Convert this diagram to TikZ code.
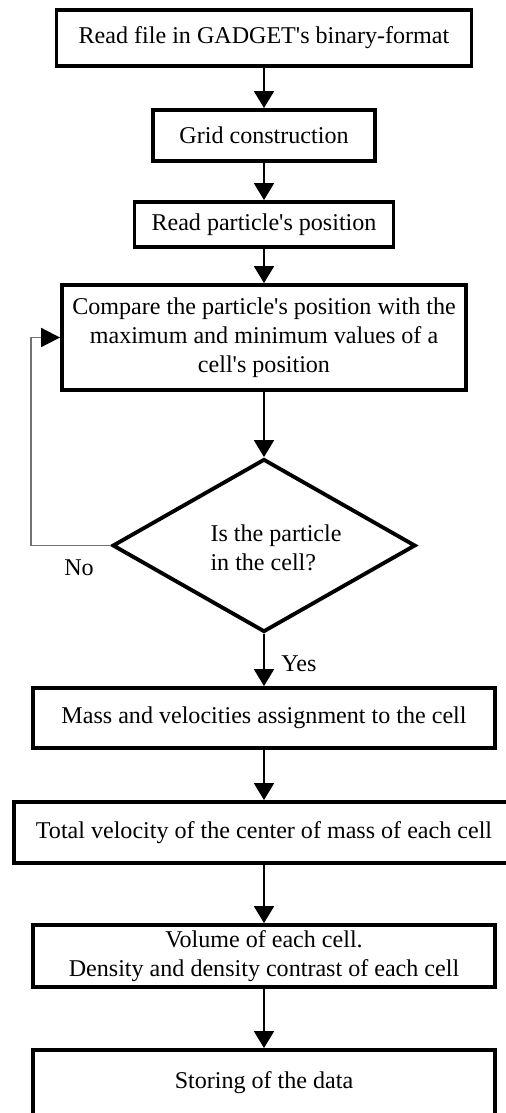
\documentclass[tikz,border=0pt]{standalone}
\usepackage{fontspec}
\setmainfont{Liberation Serif}
\usetikzlibrary{shapes.geometric,arrows.meta}
\newcommand{\apos}{\textquotesingle}
\tikzset{
  box/.style={draw=black, line width=2.2pt, rectangle, inner sep=0pt, align=center,
    font=\fontsize{13.7}{16.5}\selectfont},
  dia/.style={draw=black, line width=2.2pt, diamond, inner sep=0pt},
  lbl/.style={font=\fontsize{13.7}{16.5}\selectfont, inner sep=0pt},
  flow/.style={line width=1.1pt, -{Triangle[length=0.34cm,width=0.4cm]}},
  back/.style={line width=1.1pt, draw=black!55, -{Triangle[length=0.38cm,width=0.38cm,color=black]}}
}
\begin{document}
\begin{tikzpicture}[x=0.02cm,y=-0.02cm]
\useasboundingbox (0,0) rectangle (506,1113);
\node[box, minimum width=415*0.02cm, minimum height=56*0.02cm] (b1) at (264,38) {Read file in GADGET\apos s binary-format};
\node[box, minimum width=222*0.02cm, minimum height=51*0.02cm] (b2) at (264,135.5) {Grid construction};
\node[box, minimum width=259*0.02cm, minimum height=45*0.02cm] (b3) at (264,224.5) {Read particle\apos s position};
\node[box, minimum width=404*0.02cm, minimum height=105*0.02cm] (b4) at (264,337.5) {Compare the particle\apos s position with the\\maximum and minimum values of a\\cell\apos s position};
\node[dia, minimum width=303*0.02cm, minimum height=173*0.02cm] (dec) at (264,545.5) {};
\node[lbl, align=left] (dect) at (276,548) {Is the particle\\in the cell?};
\node[box, minimum width=462*0.02cm, minimum height=60*0.02cm] (b5) at (264,718) {Mass and velocities assignment to the cell};
\node[box, minimum width=500*0.02cm, minimum height=61*0.02cm] (b6) at (264,832.5) {Total velocity of the center of mass of each cell};
\node[box, minimum width=462*0.02cm, minimum height=62*0.02cm] (b7) at (264,956) {Volume of each cell.\\Density and density contrast of each cell};
\node[box, minimum width=462*0.02cm, minimum height=75*0.02cm] (b8) at (264,1087.5) {};
\node[lbl] (b8t) at (264,1083) {Storing of the data};
\node[lbl] (no) at (79,568) {No};
\node[lbl] (yes) at (299,664) {Yes};
\coordinate (lp) at (31,547);
\draw[flow] (b1) -- (b2);
\draw[flow] (b2) -- (b3);
\draw[flow] (b3) -- (b4);
\draw[flow] (b4) -- (dec);
\draw[flow] (dec) -- (b5);
\draw[flow] (b5) -- (b6);
\draw[flow] (b6) -- (b7);
\draw[flow] (b7.south) -- (b8.north);
\draw[back] (dec.west) -- (dec.west -| lp) |- (b4.west);
\end{tikzpicture}
\end{document}
